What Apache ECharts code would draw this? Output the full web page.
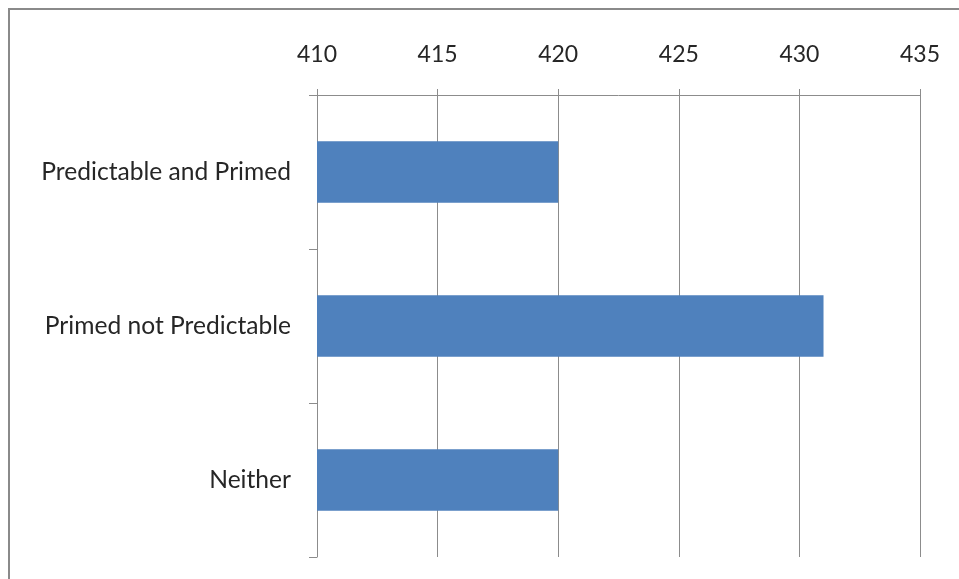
<!DOCTYPE html>
<html>
<head>
<meta charset="utf-8">
<style>
  html, body { margin: 0; padding: 0; background: #fff; }
  #chart { width: 959px; height: 579px; }
</style>
<script src="https://cdn.jsdelivr.net/npm/echarts@6/dist/echarts.min.js"></script>
</head>
<body>
<div id="chart"></div>
<script>
// Conditions shown on the category axis, top to bottom
const categories = ['Predictable and Primed', 'Primed not Predictable', 'Neither'];
// Mean value for each condition
const values = [420, 431, 420];
// Value axis range and step
const axisMin = 410;
const axisMax = 435;
const axisStep = 5;

const lineGray = '#8c8c8c';
const textColor = '#262626';
const fontFamily = 'Lato, "Open Sans", sans-serif';

const chart = echarts.init(document.getElementById('chart'), null, { renderer: 'canvas' });

chart.setOption({
  animation: false,
  backgroundColor: '#ffffff',
  graphic: [{
    type: 'rect',
    shape: { x: 9, y: 9, width: 1200, height: 1200 },
    style: { fill: 'none', stroke: '#8a8a8a', lineWidth: 2 },
    silent: true
  }],
  grid: { left: 317, top: 95, right: 39, bottom: 22, containLabel: false },
  xAxis: {
    type: 'value',
    position: 'top',
    min: axisMin,
    max: axisMax,
    interval: axisStep,
    axisLine: { show: true, lineStyle: { color: lineGray, width: 1 } },
    axisTick: { show: true, length: 6, inside: false, lineStyle: { color: lineGray } },
    splitLine: { show: true, lineStyle: { color: lineGray, width: 1 } },
    axisLabel: { color: textColor, fontSize: 23, fontFamily: fontFamily, margin: 29 }
  },
  yAxis: {
    type: 'category',
    data: categories,
    inverse: true,
    boundaryGap: true,
    axisLine: { show: true, lineStyle: { color: lineGray, width: 1 } },
    axisTick: { show: true, length: 8, inside: false, lineStyle: { color: lineGray } },
    splitLine: { show: false },
    axisLabel: { color: textColor, fontSize: 24.6, fontFamily: fontFamily, margin: 26 }
  },
  series: [{
    type: 'bar',
    data: values,
    barWidth: '40%',
    itemStyle: { color: '#4f81bd' },
    silent: true
  }]
});
</script>
</body>
</html>
